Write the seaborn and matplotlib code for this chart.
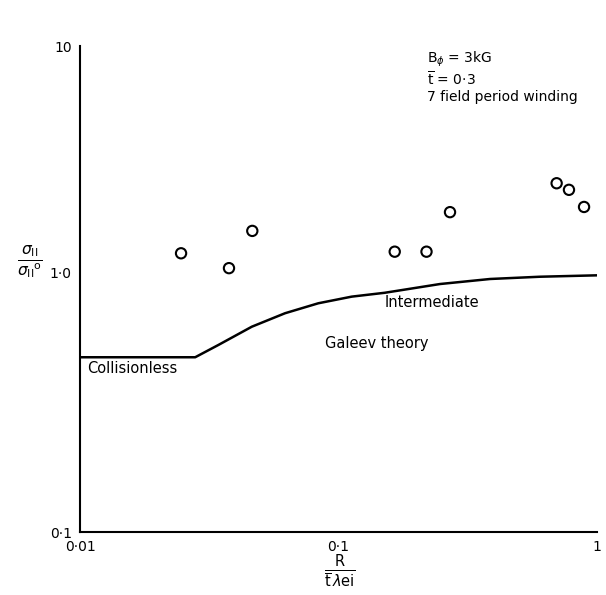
import matplotlib
matplotlib.use("Agg")
import matplotlib.pyplot as plt
import seaborn as sns
import pandas as pd
import numpy as np
from matplotlib.ticker import FixedLocator, FixedFormatter, NullLocator

# Measured points
x_data = [0.0246, 0.0377, 0.0464, 0.165, 0.219, 0.270, 0.698, 0.779, 0.891]
y_data = [1.21, 1.04, 1.52, 1.23, 1.23, 1.84, 2.47, 2.31, 1.94]

# Galeev theory curve
x_theory = [0.01, 0.0279, 0.0343, 0.0462, 0.0621, 0.0835, 0.1125, 0.151, 0.247, 0.386, 0.602, 1.0]
y_theory = [0.470, 0.470, 0.524, 0.616, 0.694, 0.758, 0.804, 0.832, 0.899, 0.940, 0.959, 0.971]

x_ticks = [0.01, 0.1, 1]
x_ticklabels = ["0·01", "0·1", "1"]
y_ticks = [0.1, 1.0, 10]
y_ticklabels = ["0·1", "1·0", "10"]

sns.set_style("white")
plt.rcParams['font.family'] = ['DejaVu Sans']
plt.rcParams['text.color'] = 'black'

# hand-drawn original log axis: the decade 1-10 is drawn shorter than 0.1-1
def fwd(y):
    l = np.log10(np.clip(np.asarray(y, dtype=float), 1e-300, None))
    return np.where(l < 0, l * 260.0, l * 226.0)

def inv(t):
    t = np.asarray(t, dtype=float)
    return np.where(t < 0, 10 ** (t / 260.0), 10 ** (t / 226.0))

fig = plt.figure(figsize=(6.06, 5.95), dpi=100)
ax = fig.add_axes([80/606, 1-532/595, (597-80)/606, (532-46)/595])

pts = pd.DataFrame({"x": x_data, "y": y_data})
th = pd.DataFrame({"x": x_theory, "y": y_theory})

sns.lineplot(data=th, x="x", y="y", sort=False, color="black", linewidth=1.8, ax=ax)
sns.scatterplot(data=pts, x="x", y="y", marker="o", s=55, facecolors="none",
                edgecolor="black", linewidth=1.5, ax=ax)

ax.set_xscale("log")
ax.set_yscale("function", functions=(fwd, inv))
ax.set_xlim(0.01, 1)
ax.set_ylim(0.1, 10)

ax.xaxis.set_major_locator(FixedLocator(x_ticks))
ax.xaxis.set_major_formatter(FixedFormatter(x_ticklabels))
ax.yaxis.set_major_locator(FixedLocator(y_ticks))
ax.yaxis.set_major_formatter(FixedFormatter(y_ticklabels))
ax.xaxis.set_minor_locator(NullLocator())
ax.yaxis.set_minor_locator(NullLocator())

for s in ["top", "right"]:
    ax.spines[s].set_visible(False)
for s in ["left", "bottom"]:
    ax.spines[s].set_linewidth(1.5)
    ax.spines[s].set_color("black")

ax.tick_params(axis="both", direction="in", length=8, width=1.3, labelsize=10,
               colors="black", pad=6)
ax.set_xlabel("")
ax.set_ylabel("")

fs = 10.5
ax.text(0.0107, 0.427, "Collisionless", fontsize=fs, ha="left", va="center")
ax.text(0.0887, 0.533, "Galeev theory", fontsize=fs, ha="left", va="center")
ax.text(0.151, 0.760, "Intermediate", fontsize=fs, ha="left", va="center")

fa = 10
fig.text(427/606, 1-59/595, r"$\mathrm{B}_{\phi}$ = 3kG", fontsize=fa, ha="left", va="center")
fig.text(427/606, 1-79/595, r"$\overline{\mathrm{t}}$ = 0·3", fontsize=fa, ha="left", va="center")
fig.text(427/606, 1-97/595, "7 field period winding", fontsize=fa, ha="left", va="center")

fig.text(30/606, 1-262/595, r"$\frac{\sigma_{\mathrm{II}}}{\sigma_{\mathrm{II}}{}^{\mathrm{o}}}$",
         fontsize=16, ha="center", va="center")
fig.text(340/606, 1-572/595, r"$\frac{\mathrm{R}}{\overline{\mathrm{t}}\,\lambda \mathrm{ei}}$",
         fontsize=15, ha="center", va="center")

fig.savefig("out.png", dpi=100, facecolor="white")
